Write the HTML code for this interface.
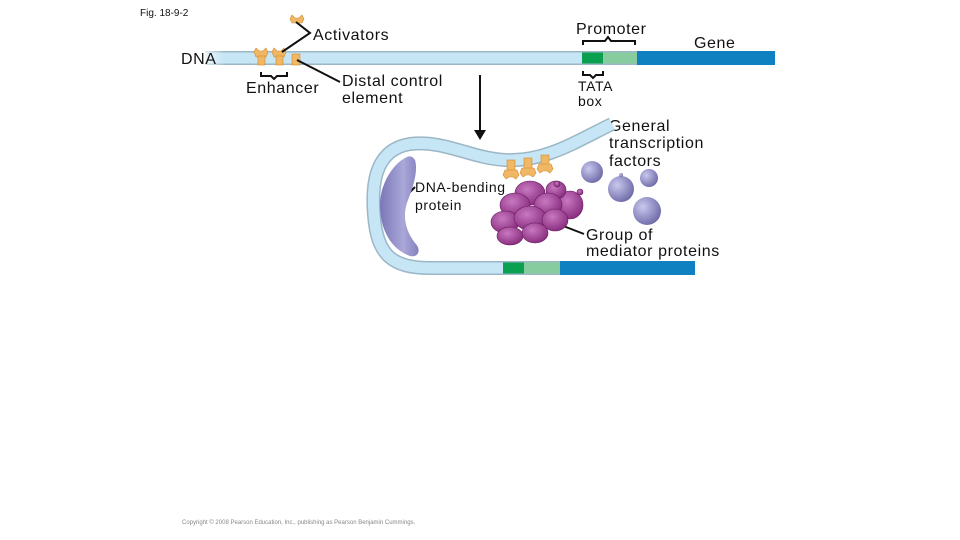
<!DOCTYPE html>
<html><head><meta charset="utf-8"><style>
body{margin:0;background:#fff}
svg{display:block}
text{font-family:"Liberation Sans",sans-serif;fill:#111}
.l{letter-spacing:0.6px}
</style></head><body>
<svg width="960" height="540" viewBox="0 0 960 540" xmlns="http://www.w3.org/2000/svg">
<defs>
<linearGradient id="fadeL" x1="0" x2="1"><stop offset="0" stop-color="#fff"/><stop offset="1" stop-color="#fff" stop-opacity="0"/></linearGradient>
<radialGradient id="gtf" cx="0.35" cy="0.35" r="0.7"><stop offset="0" stop-color="#c9c8ee"/><stop offset="1" stop-color="#6e6aa8"/></radialGradient>
<radialGradient id="med" cx="0.4" cy="0.35" r="0.7"><stop offset="0" stop-color="#c878c0"/><stop offset="1" stop-color="#862a7c"/></radialGradient>
<linearGradient id="bend" x1="0" x2="1"><stop offset="0" stop-color="#7a76b8"/><stop offset="0.6" stop-color="#aaa7d8"/><stop offset="1" stop-color="#8581c0"/></linearGradient>
</defs>
<text x="140" y="16" font-size="10">Fig. 18-9-2</text>

<rect x="205" y="51" width="570" height="14" fill="#9bb7c6"/>
<rect x="205" y="52.5" width="570" height="11" fill="#c6e5f5"/>
<rect x="582" y="52.5" width="21" height="11" fill="#0aa050"/>
<rect x="603" y="52.5" width="34" height="11" fill="#86cc9e"/>
<rect x="637" y="51" width="138" height="14" fill="#0f80c0"/>
<rect x="195" y="48" width="30" height="20" fill="url(#fadeL)"/>

<g fill="#f0b765" stroke="#d08a30" stroke-width="0.6">
<path d="M292 15 l3 3 h4 l3 -3 l2 4 l-2 4 h-10 l-2 -4z"/>
<path d="M256 48 l3 3 h4 l3 -3 l2 4 l-2 5 h-10 l-2 -5z"/>
<path d="M274 48 l3 3 h4 l3 -3 l2 4 l-2 5 h-10 l-2 -5z"/>
<rect x="258" y="56" width="7" height="9"/><rect x="276" y="56" width="7" height="9"/>
<rect x="292" y="54" width="8" height="11"/>
</g>
<g stroke="#111" stroke-width="2" fill="none">
<path d="M296 22 L310 33 L282 52"/>
<path d="M297 60 L340 82"/>
<path d="M261 72 v4 h10 l3 3 l3 -3 h10 v-4"/>
<path d="M583 71 v4 h7 l3 3 l3 -3 h7 v-4"/>
<path d="M583 45 v-4 h22 l3 -4 l3 4 h24 v4"/>
<path d="M480 75 V132"/>
<path d="M415 187 L404 198"/>
<path d="M553 222 L584 234"/>
</g>
<path d="M474 130 L480 140 L486 130 z" fill="#111"/>

<g class="l" font-size="16">
<text x="313" y="40">Activators</text>
<text x="181" y="64">DNA</text>
<text x="246" y="93">Enhancer</text>
<text x="342" y="86">Distal control</text>
<text x="342" y="103">element</text>
<text x="576" y="34">Promoter</text>
<text x="694" y="48">Gene</text>
<text x="578" y="91" font-size="14">TATA</text>
<text x="578" y="106" font-size="14">box</text>
<text x="609" y="131">General</text>
<text x="609" y="148">transcription</text>
<text x="609" y="166">factors</text>
<text x="415" y="192" font-size="14">DNA-bending</text>
<text x="415" y="210" font-size="14">protein</text>
<text x="586" y="240">Group of</text>
<text x="586" y="256">mediator proteins</text>
</g>

<path d="M612 124 C575 142, 545 162, 505 160 C470 158, 445 140, 410 144 C372 150, 372 190, 374 215 C377 255, 392 268, 430 268 L695 268" fill="none" stroke="#9bb7c6" stroke-width="14"/>
<path d="M612 124 C575 142, 545 162, 505 160 C470 158, 445 140, 410 144 C372 150, 372 190, 374 215 C377 255, 392 268, 430 268 L695 268" fill="none" stroke="#c6e5f5" stroke-width="11"/>
<rect x="503" y="262.5" width="21" height="11" fill="#0aa050"/>
<rect x="524" y="262.5" width="36" height="11" fill="#86cc9e"/>
<rect x="560" y="261" width="135" height="14" fill="#0f80c0"/>

<path d="M405 158 C392 165, 380 185, 380 205 C380 232, 393 250, 410 256 C418 258, 422 250, 415 243 C405 230, 402 215, 408 200 C414 185, 418 170, 415 160 C412 155, 408 156, 405 158z" fill="url(#bend)"/>

<g fill="#f0b765" stroke="#d08a30" stroke-width="0.6">
<rect x="507" y="160" width="8" height="12"/><rect x="524" y="158" width="8" height="12"/><rect x="541" y="155" width="8" height="11"/>
<path d="M505 170 h12 l2 5 l-3 4 l-3 -2 h-4 l-3 2 l-3 -4z"/>
<path d="M522 168 h12 l2 5 l-3 4 l-3 -2 h-4 l-3 2 l-3 -4z"/>
<path d="M539 164 h12 l2 5 l-3 4 l-3 -2 h-4 l-3 2 l-3 -4z"/>
</g>

<g fill="url(#med)" stroke="#6a1a60" stroke-width="0.6">
<ellipse cx="570" cy="205" rx="13" ry="14"/>
<ellipse cx="556" cy="190" rx="10" ry="9"/>
<ellipse cx="530" cy="193" rx="15" ry="12"/>
<ellipse cx="515" cy="205" rx="15" ry="12"/>
<ellipse cx="548" cy="205" rx="14" ry="12"/>
<ellipse cx="505" cy="222" rx="14" ry="11"/>
<ellipse cx="530" cy="218" rx="16" ry="12"/>
<ellipse cx="555" cy="220" rx="13" ry="11"/>
<ellipse cx="510" cy="236" rx="13" ry="9"/>
<ellipse cx="535" cy="233" rx="13" ry="10"/>
<circle cx="557" cy="184" r="3"/><circle cx="580" cy="192" r="3"/>
</g>

<g fill="url(#gtf)">
<circle cx="592" cy="172" r="11"/>
<circle cx="621" cy="189" r="13"/>
<circle cx="649" cy="178" r="9"/>
<circle cx="647" cy="211" r="14"/>
<circle cx="621" cy="175" r="2"/>
</g>

<text x="182" y="524" font-size="6" style="fill:#888">Copyright © 2008 Pearson Education, Inc., publishing as Pearson Benjamin Cummings.</text>
</svg>
</body></html>
